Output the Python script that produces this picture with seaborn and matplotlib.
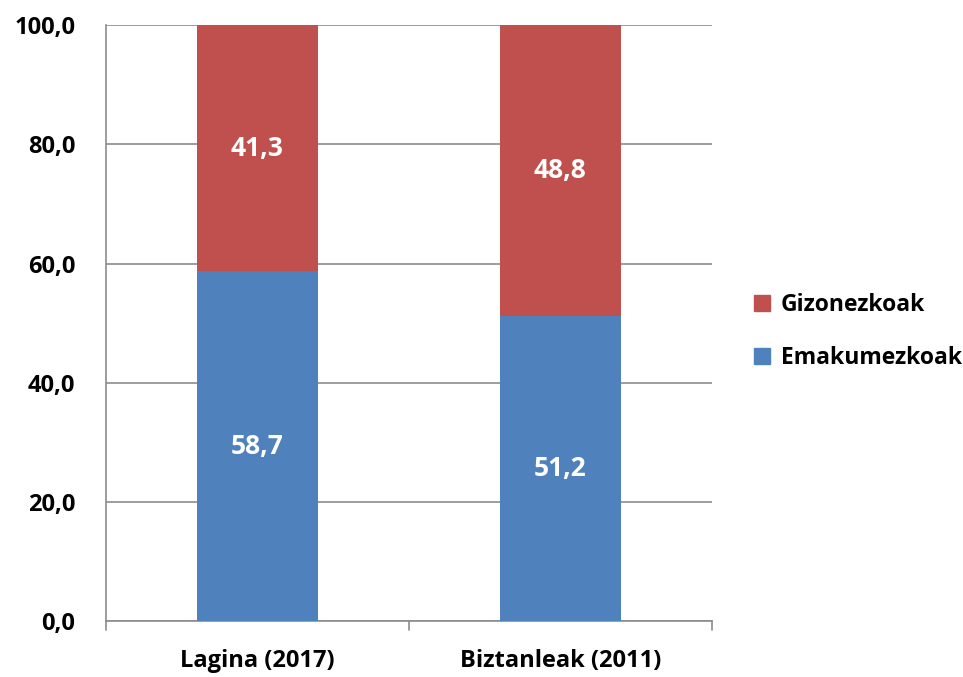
import matplotlib
matplotlib.use("Agg")
import matplotlib.pyplot as plt
import seaborn as sns
import pandas as pd
from matplotlib.patches import Patch
from matplotlib.ticker import FuncFormatter

# data
categories = ["Lagina (2017)", "Biztanleak (2011)"]
emakumezkoak = [58.7, 51.2]
gizonezkoak = [41.3, 48.8]
series_names = ["Gizonezkoak", "Emakumezkoak"]

RED = "#C0504D"
BLUE = "#4F81BD"
GRID = "#8C8C8C"

df = pd.DataFrame({"kat": categories, "emak": emakumezkoak, "gizon": gizonezkoak})
df["total"] = df["emak"] + df["gizon"]

sns.set_style("white")
plt.rcParams["font.family"] = ["Open Sans", "DejaVu Sans"]
plt.rcParams["font.weight"] = "bold"
plt.rcParams["text.color"] = "black"

fig = plt.figure(figsize=(9.63, 6.77), dpi=100)
ax = fig.add_axes([0.110, 0.0827, 0.629, 0.880])

# stacked: full height red first, blue on top of it
sns.barplot(data=df, x="kat", y="total", color=RED, width=0.4, saturation=1, ax=ax, zorder=2)
sns.barplot(data=df, x="kat", y="emak", color=BLUE, width=0.4, saturation=1, ax=ax, zorder=3)

red_bars = ax.patches[:2]
blue_bars = ax.patches[2:]
for bar, v in zip(red_bars, df["gizon"]):
    bar.set_linewidth(0)
    y0 = 100 - v
    ax.text(bar.get_x() + bar.get_width() / 2, y0 + v / 2, f"{v:.1f}".replace(".", ","),
            ha="center", va="center", color="white", fontsize=19, fontweight="bold", zorder=4)
for bar, v in zip(blue_bars, df["emak"]):
    bar.set_linewidth(0)
    ax.text(bar.get_x() + bar.get_width() / 2, v / 2, f"{v:.1f}".replace(".", ","),
            ha="center", va="center", color="white", fontsize=19, fontweight="bold", zorder=4)

ax.set_ylim(0, 100)
ax.set_xlim(-0.5, 1.5)
ax.set_yticks(range(0, 101, 20))
ax.yaxis.set_major_formatter(FuncFormatter(lambda v, p: f"{v:.1f}".replace(".", ",")))
ax.grid(axis="y", color=GRID, linewidth=1.2, zorder=0)
ax.set_axisbelow(True)
ax.set_xlabel("")
ax.set_ylabel("")

for s in ["top", "right"]:
    ax.spines[s].set_visible(False)
for s in ["left", "bottom"]:
    ax.spines[s].set_color(GRID)
    ax.spines[s].set_linewidth(1.2)

ax.tick_params(axis="y", length=8, color=GRID, width=1.2, labelsize=17, pad=14, labelcolor="black")
ax.tick_params(axis="x", length=0, labelsize=17, pad=20, labelcolor="black")
for lab in ax.get_xticklabels() + ax.get_yticklabels():
    lab.set_fontweight("bold")

# x boundary ticks between categories
for xb in [-0.5, 0.5, 1.5]:
    ax.plot([xb, xb], [0, -1.5], color=GRID, linewidth=1.2, clip_on=False, zorder=5)

handles = [Patch(color=RED), Patch(color=BLUE)]
fig.legend(handles, series_names, loc="center left", bbox_to_anchor=(0.762, 0.51),
           frameon=False, handlelength=0.7, handleheight=0.7,
           handletextpad=0.45, labelspacing=1.25, prop={"weight": "bold", "size": 16.5})

fig.savefig("out.png", dpi=100, facecolor="white")
